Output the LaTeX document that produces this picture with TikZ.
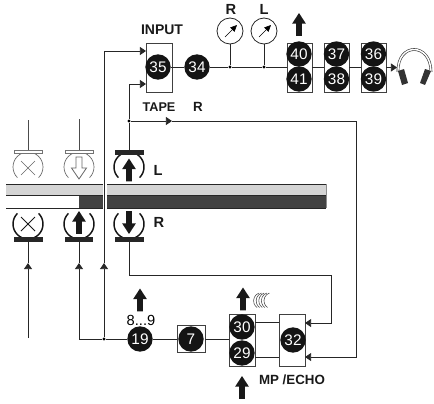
\documentclass[tikz,border=0pt]{standalone}
\usepackage{fontspec}
\setmainfont{Liberation Sans}
\usetikzlibrary{arrows.meta}
\tikzset{
  ln/.style={line width=.6pt,draw=black!85},
  tip/.style={-{Triangle[length=4.6pt,width=6pt]}},
  num/.style={circle,fill=black!92,text=white,inner sep=0pt,minimum size=19pt,font=\fontsize{11.5}{12}\selectfont},
  boxn/.style={draw=black!75,line width=.7pt,fill=white,inner sep=0pt,minimum width=#1*.75pt},
  lab/.style={inner sep=0pt,font=\bfseries\fontsize{10}{11}\selectfont,text=black!90},
  biglab/.style={inner sep=0pt,font=\bfseries\fontsize{11}{12}\selectfont,text=black!90},
  meter/.style={circle,draw=black!85,line width=.6pt,inner sep=0pt,minimum size=19.5pt},
  dotn/.style={circle,fill=black,inner sep=0pt,minimum size=2.6pt},
  bar/.style={fill=black!85,draw=black!85,line width=.3pt},
  gbar/.style={fill=white,draw=black!55,line width=.6pt},
  harc/.style={line width=1.1pt,draw=black!92},
  garc/.style={line width=.5pt,draw=black!60},
  pics/fatup/.style={code={\fill[black!90,rotate=#1] (-2.2pt,-8.6pt) -- (-2.2pt,.6pt) -- (-5.2pt,.6pt) -- (0,8.6pt) -- (5.2pt,.6pt) -- (2.2pt,.6pt) -- (2.2pt,-8.6pt) -- cycle;}},
  pics/fatup/.default=0
}
\begin{document}
\begin{tikzpicture}[x=.75pt,y=-.75pt]
\useasboundingbox (0,0) rectangle (434,403);
% tape
\fill[black!17] (6,184) rectangle (326,195);
\fill[black!74] (79,195) rectangle (326,208);
\draw[line width=.6pt,black!85] (6,184) -- (326,184) (6,195) -- (326,195) (6,208) -- (326,208);
\draw[line width=.6pt,black!45] (326,184) -- (326,208);
\fill[white] (102.5,183.5) rectangle (106.5,208.5);
% boxes
\node[boxn=26,minimum height=36.75pt] (b35) at (159,67.5) {};
\node[boxn=25,minimum height=36.75pt] (b40) at (299.5,67.5) {};
\node[boxn=25,minimum height=36.75pt] (b37) at (336.5,67.5) {};
\node[boxn=25,minimum height=36.75pt] (b36) at (373.5,67.5) {};
\node[boxn=26,minimum height=39pt] (b30) at (242,340) {};
\node[boxn=26,minimum height=39pt] (b32) at (292,340) {};
\node[boxn=28,minimum height=20.25pt] (b7) at (191,339) {};
% numbered circles
\node[num] (n35) at (158,67) {35};
\node[num] (n34) at (197,67) {34};
\node[num] (n40) at (299,54) {40};
\node[num] (n41) at (299,79) {41};
\node[num] (n37) at (336.5,54) {37};
\node[num] (n38) at (336.5,79) {38};
\node[num] (n36) at (373.5,54) {36};
\node[num] (n39) at (373.5,79) {39};
\node[num] (n19) at (140,339) {19};
\node[num] (n7) at (191,339) {7};
\node[num] (n30) at (242,327) {30};
\node[num] (n29) at (242,353) {29};
\node[num] (n32) at (293,340) {32};
% meters
\node[meter] (mR) at (230,31) {};
\node[meter] (mL) at (264,31) {};
\draw[line width=.5pt,-{Triangle[length=5pt,width=4.5pt]}] (225,37) -- (237,25);
\draw[line width=.5pt,-{Triangle[length=5pt,width=4.5pt]}] (259,37) -- (271,25);
\node[dotn] (dR) at (230,67) {};
\node[dotn] (dL) at (264,67) {};
\draw[ln] (mR) -- (dR);
\draw[ln] (mL) -- (dL);
% signal chain
\draw[ln] (n35) -- (n34);
\draw[ln] (n34) -- (dR) -- (dL) -- (dL -| b40.west);
\draw[ln] (b40.east) -- (b37.west);
\draw[ln] (b37.east) -- (b36.west);
\coordinate (ph) at (397,67.5);
\draw[ln,tip] (b36.east) -- (ph);
% headphones
\draw[line width=.45pt,draw=black!80,double=white,double distance=1.1pt] (398,72) .. controls (397,42) and (431,42) .. (431,72);
\fill[black!80] (398,71) -- (404,69) -- (408,83) -- (402,85) -- cycle;
\fill[black!80] (425,69) -- (431,71) -- (425,85) -- (420,83) -- cycle;
% heads: top row
\draw[garc] (28,167) ++(-45:11.25pt) arc[start angle=-45,end angle=225,radius=11.25pt];
\draw[garc] (79,167) ++(-45:11.25pt) arc[start angle=-45,end angle=225,radius=11.25pt];
\draw[harc] (129,167) ++(-45:11.25pt) arc[start angle=-45,end angle=225,radius=11.25pt];
\draw[black!60,line width=.5pt] (21,161) -- (35,175) (35,161) -- (21,175);
\draw[black!60,line width=.6pt,fill=white] (76,157) -- (82,157) -- (82,168) -- (86.5,168) -- (79,179) -- (71.5,168) -- (76,168) -- cycle;
\path (129,170) pic {fatup=0};
\node[gbar,minimum width=21pt,minimum height=2.6pt,inner sep=0pt] (hT1) at (28,152) {};
\node[gbar,minimum width=21pt,minimum height=2.6pt,inner sep=0pt] (hT2) at (79,152) {};
\node[bar,minimum width=21pt,minimum height=2.6pt,inner sep=0pt] (hT3) at (129,152) {};
% heads: bottom row
\draw[harc] (28,224) ++(45:11.25pt) arc[start angle=45,end angle=-225,radius=11.25pt];
\draw[harc] (79,224) ++(45:11.25pt) arc[start angle=45,end angle=-225,radius=11.25pt];
\draw[harc] (129,224) ++(45:11.25pt) arc[start angle=45,end angle=-225,radius=11.25pt];
\draw[black!90,line width=.7pt] (21,217) -- (35,231) (35,217) -- (21,231);
\path (79,222.5) pic {fatup=0};
\path (129,222.5) pic {fatup=180};
\node[bar,minimum width=21pt,minimum height=2.6pt,inner sep=0pt] (hB1) at (28,239) {};
\node[bar,minimum width=20pt,minimum height=2.6pt,inner sep=0pt] (hB2) at (79,239) {};
\node[bar,minimum width=21pt,minimum height=2.6pt,inner sep=0pt] (hB3) at (129,239) {};
% connectors around the heads
\coordinate (s1) at (28,120);
\coordinate (s2) at (79,119);
\draw[line width=.5pt,black!70] (s1) -- (hT1.north);
\draw[line width=.5pt,black!70] (s2) -- (hT2.north);
\node[dotn] (dT) at (129,121) {};
\draw[ln] (hT3.north) -- (dT);
\coordinate (c35b) at (129,84);
\coordinate (in2) at (146,84);
\draw[ln,tip] (dT) -- (c35b) -- (in2);
\coordinate (t1) at (172,121);
\coordinate (c1) at (356,121);
\coordinate (c2) at (356,357);
\coordinate (in4) at (305,357);
\draw[ln,tip] (dT) -- (t1);
\draw[ln,tip] (t1) -- (c1) -- (c2) -- (in4);
\coordinate (c3) at (129,275);
\coordinate (c4) at (331,275);
\coordinate (c5) at (331,323);
\coordinate (in3) at (305,323);
\draw[ln,tip] (hB3.south) -- (c3) -- (c4) -- (c5) -- (in3);
\node[dotn] (d1) at (104,339) {};
\coordinate (t2) at (104,263);
\coordinate (c6) at (104,51);
\coordinate (in1) at (146,51);
\draw[ln,tip] (d1) -- (t2);
\draw[ln,tip] (t2) -- (c6) -- (in1);
\coordinate (c7) at (79,339);
\coordinate (t3) at (79,263);
\draw[ln,tip] (d1) -- (c7) -- (t3);
\draw[ln] (t3) -- (hB2.south);
\coordinate (e1) at (28,338);
\coordinate (t4) at (28,263);
\draw[ln,tip] (e1) -- (t4);
\draw[ln] (t4) -- (hB1.south);
\draw[ln] (d1) -- (n19);
\draw[ln] (n19) -- (b7.west);
\draw[ln] (b7.east) -- (b30.west |- b7.east);
\draw[ln] (b30.east |- 0,322) -- (b32.west |- 0,322);
\draw[ln] (b30.east |- 0,357) -- (b32.west |- 0,357);
% block arrows
\path (299,24.5) pic {fatup=0};
\path (140,300) pic {fatup=0};
\path (243,299) pic {fatup=0};
\path (242,387.5) pic {fatup=0};
% sound waves
\foreach \i in {0,1,2,3,4}
  \draw[line width=.4pt,black!75] (259+\i*2.6,293) arc[start angle=110,end angle=235,radius=6.2pt];
% labels
\node[lab,font=\bfseries\fontsize{10.5}{11}\selectfont] (tIn) at (162,30) {INPUT};
\node[biglab] (tR1) at (231,9) {R};
\node[biglab] (tL1) at (264,9) {L};
\node[lab,font=\bfseries\fontsize{9.5}{11}\selectfont] (tTape) at (159,107) {TAPE};
\node[lab] (tR2) at (198,107) {R};
\node[biglab] (tL2) at (158,170) {L};
\node[biglab] (tR3) at (159,222) {R};
\node[inner sep=0pt,font=\fontsize{11}{12}\selectfont] (t89) at (141,320) {8...9};
\node[lab] (tMp) at (292,380) {MP /ECHO};
\end{tikzpicture}
\end{document}
